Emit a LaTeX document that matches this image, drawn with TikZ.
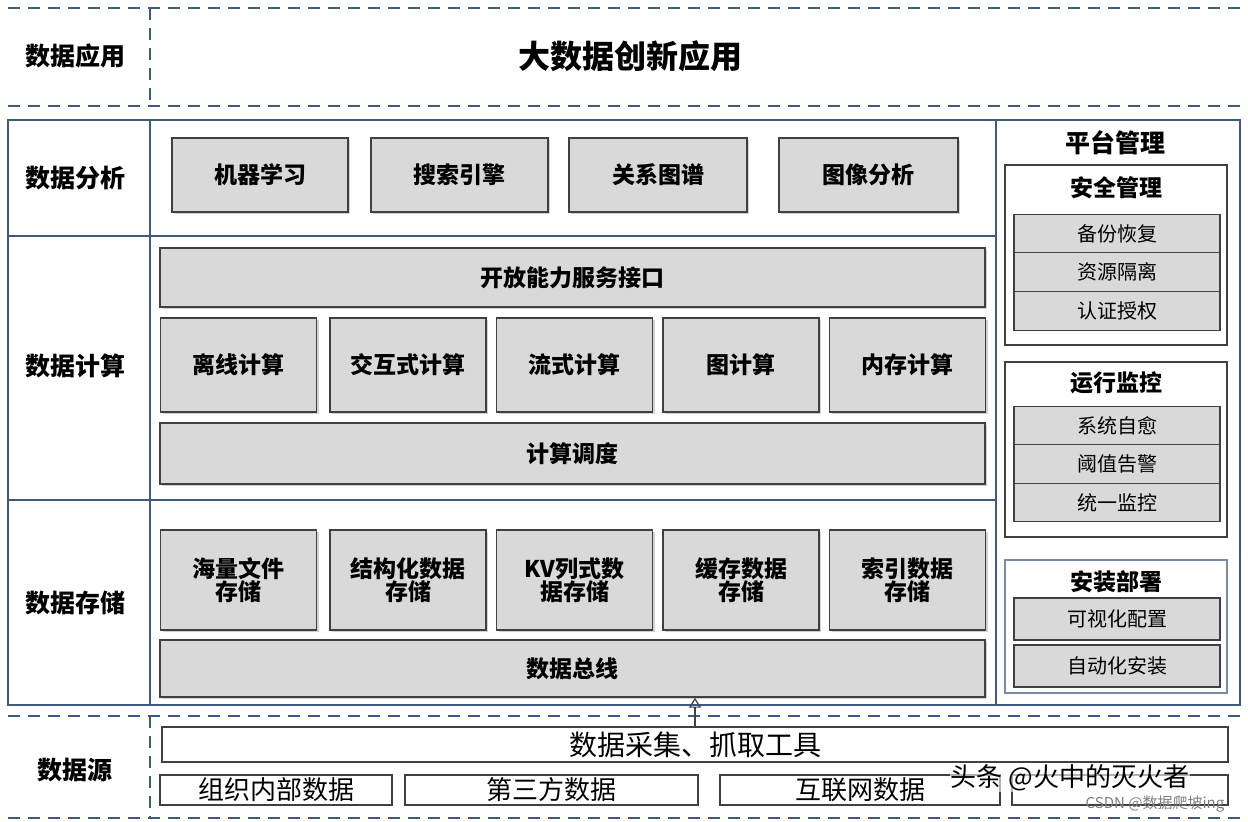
\documentclass[tikz,border=0pt]{standalone}
\usepackage{fontspec}
\setmainfont{Noto Sans CJK SC}
\usetikzlibrary{shadows,arrows.meta}
\definecolor{framec}{HTML}{3E5A80}
\definecolor{boxgray}{HTML}{D9D9D9}
\definecolor{edgec}{HTML}{404040}
\newcommand{\fs}[1]{\fontsize{#1}{#1}\selectfont}
\tikzset{
	box/.style={draw=edgec, line width=1.4pt, fill=boxgray, inner sep=0pt, align=center,
		font=\fs{23}\bfseries, drop shadow={shadow xshift=2pt, shadow yshift=-2pt, fill=gray!70}},
	item/.style={draw=edgec, line width=1.2pt, fill=boxgray, inner sep=0pt, minimum width=206, font=\fs{20}},
	group/.style={draw=edgec, line width=1.2pt, fill=white},
	rowlabel/.style={font=\fs{25}\bfseries},
	srcbox/.style={draw=edgec, line width=1.3pt, fill=white, inner sep=0pt, font=\fs{26}},
	frame/.style={draw=framec, line width=2pt},
	dframe/.style={draw=framec, line width=2.4pt, dash pattern=on 12pt off 8pt}
}
\begin{document}
\begin{tikzpicture}[x=1pt, y=-1pt]
	\useasboundingbox[fill=white] (0,0) rectangle (1248,822);

	% application layer
	\draw[dframe] (8,8) -- (1240,8) (8,106) -- (1240,106) (150,8) -- (150,106);
	\node[rowlabel] (lapp) at (75,56) {数据应用};
	\node[font=\fs{32}\bfseries] (app) at (630,56) {大数据创新应用};

	% main frame
	\draw[frame] (8,120) rectangle (1240,705);
	\draw[frame] (150,120) -- (150,705) (996,120) -- (996,705);
	\draw[frame] (8,236) -- (996,236) (8,500) -- (996,500);
	\node[rowlabel] (lana) at (75,178) {数据分析};
	\node[rowlabel] (lcmp) at (75,366) {数据计算};
	\node[rowlabel] (lsto) at (75,603) {数据存储};

	% analysis
	\foreach \cx/\w/\t [count=\i] in {260/176/机器学习, 459.5/177/搜索引擎, 658/178/关系图谱, 868.5/179/图像分析}
	\node[box, minimum width=\w, minimum height=74] (ana\i) at (\cx,175) {\t};

	% computing
	\node[box, minimum width=825, minimum height=59] (api) at (572.5,277.5) {开放能力服务接口};
	\foreach \cx/\t [count=\i] in {238.5/离线计算, 408/交互式计算, 574.5/流式计算, 741/图计算, 907.5/内存计算}
	\node[box, minimum width=156, minimum height=94] (cmp\i) at (\cx,365) {\t};
	\node[box, minimum width=825, minimum height=61] (sched) at (572.5,453.5) {计算调度};

	% storage
	\foreach \cx/\t [count=\i] in {238.5/海量文件\\存储, 408/结构化数据\\存储, 574.5/KV列式数\\据存储, 741/缓存数据\\存储, 907.5/索引数据\\存储}
	\node[box, minimum width=156, minimum height=100] (sto\i) at (\cx,580) {\t};
	\node[box, minimum width=825, minimum height=57] (bus) at (572.5,668.5) {数据总线};

	% platform management
	\node[font=\fs{25}\bfseries] (plat) at (1115,143) {平台管理};
	\draw[group] (1005,165) rectangle (1227,345);
	\node[font=\fs{23}\bfseries] (sec) at (1116,188) {安全管理};
	\foreach \cy/\t [count=\i] in {234/备份恢复, 272/资源隔离, 311/认证授权}
	\node[item, minimum height=38.5] (sec\i) at (1117,\cy) {\t};
	\draw[group] (1005,362) rectangle (1227,537);
	\node[font=\fs{23}\bfseries] (mon) at (1116,383) {运行监控};
	\foreach \cy/\t [count=\i] in {426/系统自愈, 464/阈值告警, 502.5/统一监控}
	\node[item, minimum height=38.5] (mon\i) at (1117,\cy) {\t};
	\draw[group, draw=framec!70] (1005,560) rectangle (1227,693);
	\node[font=\fs{23}\bfseries] (dep) at (1116,582) {安装部署};
	\node[item, minimum height=42] (dep1) at (1117,619) {可视化配置};
	\node[item, minimum height=42] (dep2) at (1117,666) {自动化安装};

	% data sources
	\draw[dframe] (8,716) -- (1240,716) (8,818) -- (1240,818) (150,716) -- (150,818);
	\node[rowlabel] (lsrc) at (75,770) {数据源};
	\node[srcbox, minimum width=1066, minimum height=35, font=\fs{28}] (collect) at (695,744.5) {数据采集、抓取工具};
	\node[srcbox, minimum width=232, minimum height=30] (src1) at (276,790) {组织内部数据};
	\node[srcbox, minimum width=293, minimum height=30] (src2) at (551.5,790) {第三方数据};
	\node[srcbox, minimum width=280, minimum height=30] (src3) at (860,790) {互联网数据};
	\node[srcbox, minimum width=216, minimum height=30] (src4) at (1120,790) {};
	\draw[-{Triangle[open, length=10pt, width=12pt]}, edgec, line width=1.2pt] (collect.north) -- (collect.north |- bus.south);

	% watermarks
	\node[font=\fs{26}, fill=white, fill opacity=0.6, text opacity=1, inner sep=1pt] (wm1) at (1070,778) {头条 @火中的灭火者};
	\node[font=\fs{15}, text=gray] (wm2) at (1155,804) {CSDN @数据爬坡ing};
\end{tikzpicture}
\end{document}
